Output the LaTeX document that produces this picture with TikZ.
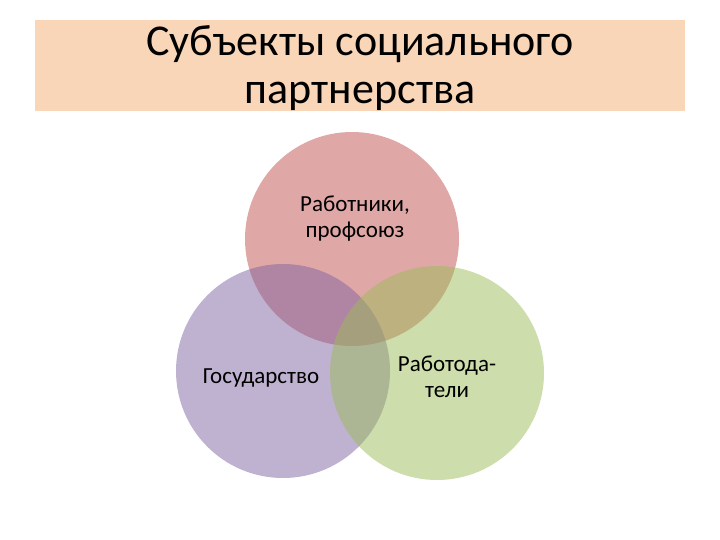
\documentclass[tikz,border=0pt]{standalone}
\usepackage{fontspec}
\setmainfont{Carlito}
\usepackage{tikz}
\usetikzlibrary{positioning}
\definecolor{titlebg}{RGB}{250,214,184}
\definecolor{redc}{RGB}{192,80,77}
\definecolor{purplec}{RGB}{128,100,162}
\definecolor{greenc}{RGB}{155,187,89}
\tikzset{venn/.style={circle,minimum size=214pt,inner sep=0pt,fill opacity=0.5},
  lbl/.style={font=\fontsize{23}{26}\selectfont,align=center,text=black}}
\begin{document}
\begin{tikzpicture}[line cap=round,line join=round,x=1pt,y=-1pt]
\useasboundingbox (0,0) rectangle (720,540);
\fill[titlebg] (35,20) rectangle (685,111);
\node[font=\fontsize{44}{48}\selectfont,align=center] (title) at (360,68) {Субъекты социального\\партнерства};
\node[venn,fill=redc] (workers) at (352,239) {};
\node[venn,fill=purplec] (state) at (283,371) {};
\node[venn,fill=greenc] (employers) at (437,373) {};
\node[lbl] (tw) at (355,219) {Работники,\\профсоюз};
\node[lbl] (ts) at (261,378) {Государство};
\node[lbl] (te) at (447,377) {Работода-\\тели};
\end{tikzpicture}
\end{document}
